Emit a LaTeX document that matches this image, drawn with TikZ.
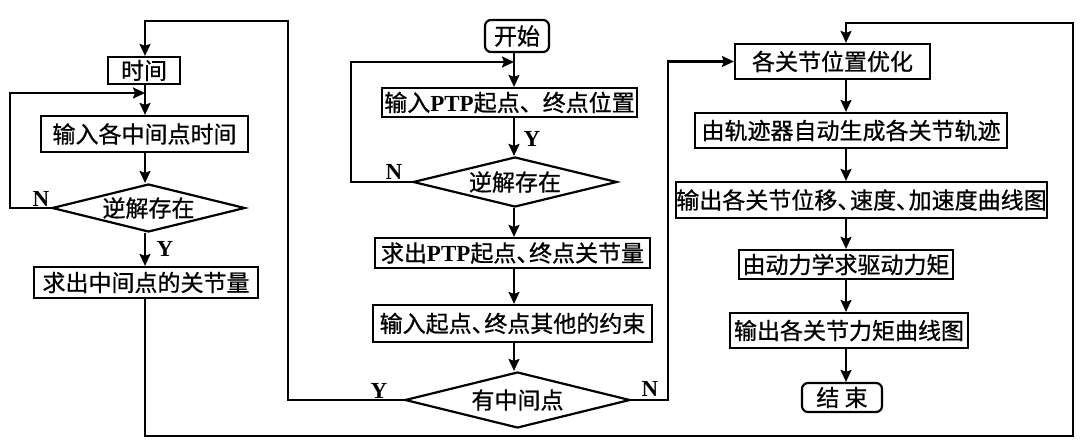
\documentclass[tikz,border=0pt]{standalone}
\usepackage{fontspec}
\setmainfont{Liberation Serif}
\newfontfamily\zhfont[FakeBold=0.8]{Noto Sans CJK SC}
\usetikzlibrary{shapes.geometric,arrows.meta}
\newcommand\ptp{{\rmfamily\bfseries PTP}}
\newcommand\dun{、\kern-0.45em}
\begin{document}
\begin{tikzpicture}[x=0.5pt,y=-0.5pt,line width=1.1pt,
  box/.style={draw,rectangle,inner sep=0pt,font=\zhfont\fontsize{11.5}{13}\selectfont},
  rbox/.style={box,rounded corners=3pt},
  dia/.style={draw,diamond,aspect=4,inner sep=0pt,font=\zhfont\fontsize{11.5}{13}\selectfont},
  arr/.style={-{Stealth[length=6pt,width=5.5pt,inset=1pt]}},
  lab/.style={font=\bfseries\fontsize{11.5}{13}\selectfont,inner sep=0pt}]
\useasboundingbox (0,0) rectangle (1080,443);
% column guides
\coordinate (cL) at (145,0);
\coordinate (cM) at (514,0);
\coordinate (cR) at (846,0);
% left column
\node[box,minimum width=36pt,minimum height=13.5pt] (sj) at (144,70.5) {时间};
\node[box,minimum width=103.5pt,minimum height=18pt] (in1) at (144.5,134) {输入各中间点时间};
\node[dia,minimum width=96.5pt,minimum height=24pt] (d1) at (148.5,208) {逆解存在};
\node[box,minimum width=112pt,minimum height=15.5pt] (q1) at (146,282.5) {求出中间点的关节量};
% middle column
\node[rbox,minimum width=32pt,minimum height=16pt] (ks) at (517,36) {开始};
\node[box,minimum width=127.5pt,minimum height=14.5pt] (in2) at (509.5,102.5) {输入\ptp 起点、终点位置};
\node[dia,minimum width=102pt,minimum height=25pt] (d2) at (515,182) {逆解存在};
\node[box,minimum width=137.5pt,minimum height=15pt] (q2) at (512.5,253) {求出\ptp 起点\dun 终点关节量};
\node[box,minimum width=139.5pt,minimum height=18.5pt] (in3) at (512.5,323.5) {输入起点\dun 终点其他的约束};
\node[dia,minimum width=112.5pt,minimum height=28pt] (d3) at (517.5,400) {有中间点};
% right column
\node[box,minimum width=97.5pt,minimum height=17.5pt] (opt) at (832.5,61.5) {各关节位置优化};
\node[box,minimum width=156pt,minimum height=17.5pt] (traj) at (851,130.5) {由轨迹器自动生成各关节轨迹};
\node[box,minimum width=185.5pt,minimum height=18pt] (outc) at (861.5,200) {输出各关节位移\dun 速度\dun 加速度曲线图};
\node[box,minimum width=107pt,minimum height=14.5pt] (dyn) at (846,264.5) {由动力学求驱动力矩};
\node[box,minimum width=119pt,minimum height=17.5pt] (outt) at (849,330.5) {输出各关节力矩曲线图};
\node[rbox,minimum width=40pt,minimum height=14.5pt] (end) at (842,397.5) {结\ 束};
% helper coordinates
\coordinate (j1) at (145,93);
\coordinate (j2) at (514,62);
\coordinate (t1) at (288,21);
\coordinate (b1) at (1073,436);
\coordinate (t2) at (1073,23);
% left connectors
\draw[arr] (sj.south -| cL) -- (in1.north -| cL);
\draw[arr] (in1.south -| cL) -- (d1.north -| cL);
\draw[arr] (d1.south -| cL) -- (q1.north -| cL);
\draw[arr] (d1.west) -- ++(-41,0) |- (j1);
% middle connectors
\draw[arr] (ks.south -| cM) -- (in2.north -| cM);
\draw[arr] (in2.south -| cM) -- (d2.north -| cM);
\draw[arr] (d2.west) -- ++(-61,0) |- (j2);
\draw[arr] (d2.south -| cM) -- (q2.north -| cM);
\draw[arr] (q2.south -| cM) -- (in3.north -| cM);
\draw[arr] (in3.south -| cM) -- (d3.north -| cM);
% right connectors
\draw[arr] (opt.south -| cR) -- (traj.north -| cR);
\draw[arr] (traj.south -| cR) -- (outc.north -| cR);
\draw[arr] (outc.south -| cR) -- (dyn.north -| cR);
\draw[arr] (dyn.south -| cR) -- (outt.north -| cR);
\draw[arr] (outt.south -| cR) -- (end.north -| cR);
% long loops
\draw[arr] (d3.west) -| (t1) -| (sj.north -| cL);
\draw[arr] (d3.east) -- ++(37,0) |- (opt.west);
\draw[arr] (q1.south -| cL) |- (b1) -- (t2) -| (opt.north -| cR);
% labels
\node[lab] (lN1) at (41,199) {N};
\node[lab] (lY1) at (165,249) {Y};
\node[lab] (lY2) at (532,139) {Y};
\node[lab] (lN2) at (394,172) {N};
\node[lab] (lY3) at (379,391) {Y};
\node[lab] (lN3) at (650,389) {N};
\end{tikzpicture}
\end{document}
